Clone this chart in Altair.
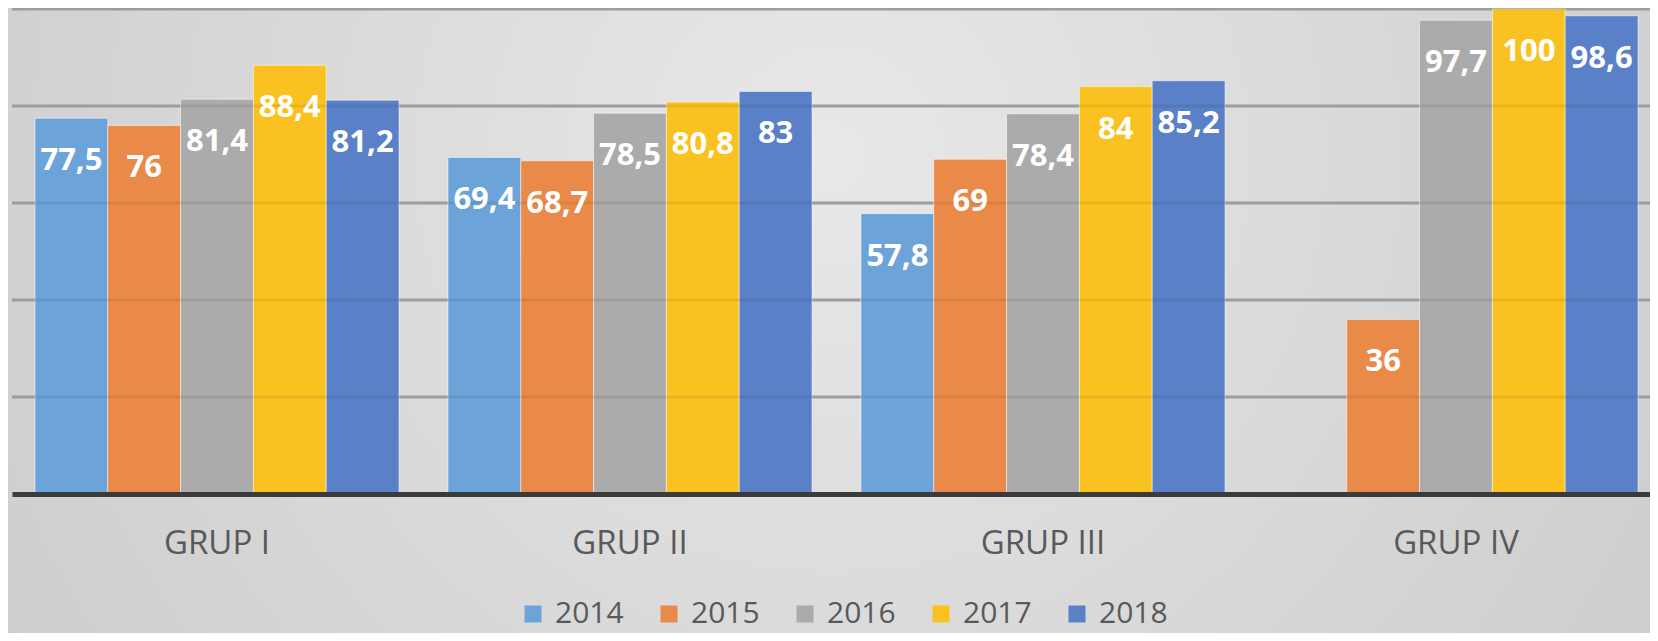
import altair as alt
import pandas as pd

groups = ["GRUP I", "GRUP II", "GRUP III", "GRUP IV"]
years = ["2014", "2015", "2016", "2017", "2018"]
v2014 = [77.5, 69.4, 57.8, None]
v2015 = [76, 68.7, 69, 36]
v2016 = [81.4, 78.5, 78.4, 97.7]
v2017 = [88.4, 80.8, 84, 100]
v2018 = [81.2, 83, 85.2, 98.6]
grid_values = [20, 40, 60, 80, 100]
colors = ["#6CA3D8", "#EA8A49", "#ABABAB", "#F9C221", "#5A80C7"]

series = {"2014": v2014, "2015": v2015, "2016": v2016, "2017": v2017, "2018": v2018}
rows = []
for y, vals in series.items():
    for g, v in zip(groups, vals):
        if v is None:
            continue
        lab = (f"{v:g}").replace(".", ",")
        rows.append({"group": g, "year": y, "value": v, "label": lab})
df = pd.DataFrame(rows)
grid_df = pd.DataFrame({"gv": grid_values})

W, H = 1638, 485
FONT = "Open Sans"

x_enc = alt.X(
    "group:N", sort=groups,
    scale=alt.Scale(range=[0, 1649], paddingInner=0.1186, paddingOuter=0.0557),
    axis=alt.Axis(title=None, labelAngle=0, labelFont=FONT, labelFontSize=33,
                  labelColor="#595959", labelPadding=33, ticks=False, tickSize=0,
                  domainColor="#3b3b3b", domainWidth=5, grid=False, zindex=1),
)
xo_enc = alt.XOffset("year:N", sort=years, scale=alt.Scale(paddingInner=0, paddingOuter=0))
y_scale = alt.Scale(domain=[0, 100], nice=False, zero=True)

bg = alt.Chart(pd.DataFrame({"a": [0]})).mark_rect(
    color=alt.Gradient(
        gradient="radial",
        stops=[alt.GradientStop(color="#e8e8e8", offset=0),
               alt.GradientStop(color="#c4c4c4", offset=1)],
        x1=0.5, y1=0.4, x2=0.5, y2=0.4, r1=0, r2=0.78,
    )
).encode(
    x=alt.value(-12), x2=alt.value(W + 12), y=alt.value(-9), y2=alt.value(H + 150)
)

grid_back = alt.Chart(grid_df).mark_rule(color="#a9a9a9", strokeWidth=3).encode(
    y=alt.Y("gv:Q", scale=y_scale, axis=None)
)

bars = alt.Chart(df).mark_bar(stroke="#ffffff", strokeWidth=1, strokeOpacity=0.5).encode(
    x=x_enc,
    xOffset=xo_enc,
    y=alt.Y("value:Q", scale=y_scale, axis=None),
    color=alt.Color(
        "year:N",
        scale=alt.Scale(domain=years, range=colors),
        legend=alt.Legend(
            orient="none", legendX=506, legendY=590, direction="horizontal",
            title=None, symbolType="square", symbolSize=289, symbolStrokeWidth=0,
            labelFont=FONT, labelFontSize=30, labelColor="#595959",
            labelOffset=7, columnPadding=30, padding=0,
        ),
    ),
)

grid_front = alt.Chart(grid_df).mark_rule(color="#000000", strokeWidth=3, opacity=0.07).encode(
    y=alt.Y("gv:Q", scale=y_scale, axis=None)
)

labels = alt.Chart(df).mark_text(
    font=FONT, fontWeight="bold", fontSize=31, baseline="middle", dy=43, color="white"
).encode(
    x=x_enc,
    xOffset=xo_enc,
    y=alt.Y("value:Q", scale=y_scale, axis=None),
    text="label:N",
)

chart = alt.layer(bg, grid_back, bars, grid_front, labels).properties(
    width=W, height=H,
    autosize=alt.AutoSizeParams(type="none"),
    padding={"left": 4, "top": 1, "right": 0, "bottom": 139},
    background="#d2d2d2",
).configure_view(stroke=None)

chart.save("out.html", embed_options={"renderer": "svg", "actions": False})
